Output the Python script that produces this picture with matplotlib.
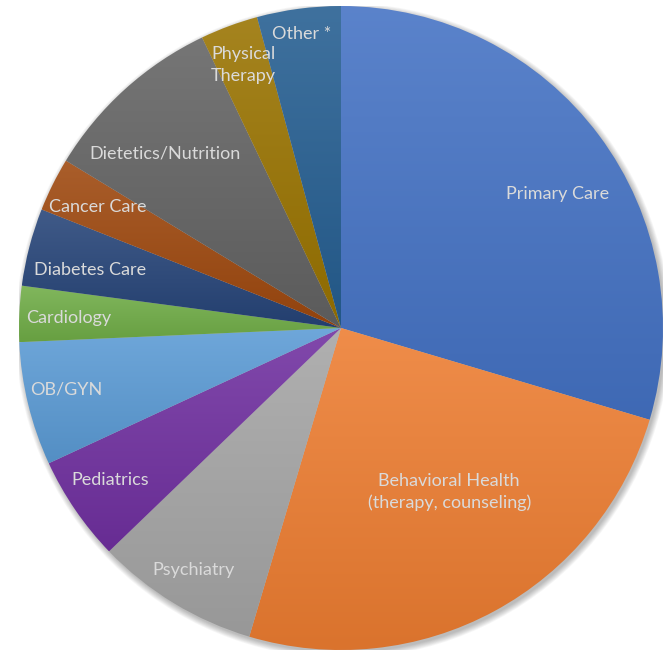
import numpy as np
import matplotlib.pyplot as plt
from matplotlib.colors import to_rgb
from matplotlib.patches import Circle

# Share of visits by care type
labels = ['Primary Care', 'Behavioral Health\n(therapy, counseling)', 'Psychiatry',
          'Pediatrics', 'OB/GYN', 'Cardiology', 'Diabetes Care', 'Cancer Care',
          'Dietetics/Nutrition', 'Physical\nTherapy', 'Other *']
values = [29.6, 25.0, 8.2, 5.3, 6.2, 2.8, 3.9, 2.7, 9.2, 2.9, 4.2]
colors = ['#4472C4', '#ED7D31', '#A5A5A5', '#7030A0', '#5B9BD5', '#70AD47',
          '#264478', '#9E480E', '#636363', '#997300', '#255E91']

# where each label sits inside its slice (fraction of radius, angle nudge in degrees)
label_r = [0.79, 0.61, 0.88, 0.86, 0.875, 0.845, 0.80, 0.845, 0.77, 0.87, 0.92]
label_nudge = [-5, 5, 0, -1, -1, 0.5, 1.5, 0, 3, 0, 0]

fig = plt.figure(figsize=(6.66, 6.56), dpi=100)
ax = fig.add_axes([19 / 666, 6 / 656, 644 / 666, 644 / 656])

# soft shadow under the pie
for i in range(8):
    ax.add_patch(Circle((0.006, -0.008), 1.0 + 0.0025 * i, color='black',
                        alpha=0.035, lw=0, zorder=0))

wedges, _ = ax.pie(values, startangle=90, counterclock=False, radius=1,
                   colors=colors, wedgeprops=dict(linewidth=0))


def shade(c, f):
    c = np.array(to_rgb(c))
    if f > 0:
        return c + (1 - c) * f
    return c * (1 + f)


# vertical gradient fill per slice, lighter at the top
for w, c in zip(wedges, colors):
    w.set_facecolor('none')
    ext = w.get_path().get_extents()
    t = np.linspace(0, 1, 256)[:, None]
    top, bot = shade(c, 0.12), shade(c, -0.08)
    grad = top[None, :] * (1 - t[..., None]) + bot[None, :] * t[..., None]
    grad = np.repeat(grad, 2, axis=1)
    im = ax.imshow(grad, extent=[ext.x0, ext.x1, ext.y0, ext.y1], origin='upper',
                   aspect='auto', zorder=1, interpolation='bilinear')
    im.set_clip_path(w)
    w.set_zorder(2)

ax.set_xlim(-1, 1)
ax.set_ylim(-1, 1)
ax.set_aspect('equal')
ax.axis('off')

for w, lab, r, d in zip(wedges, labels, label_r, label_nudge):
    mid = np.deg2rad((w.theta1 + w.theta2) / 2 + d)
    ax.text(r * np.cos(mid), r * np.sin(mid), lab, ha='center', va='center',
            fontsize=13, color='#DADADA', family='Lato', zorder=3,
            linespacing=1.45)

fig.savefig('out.png', dpi=100)
